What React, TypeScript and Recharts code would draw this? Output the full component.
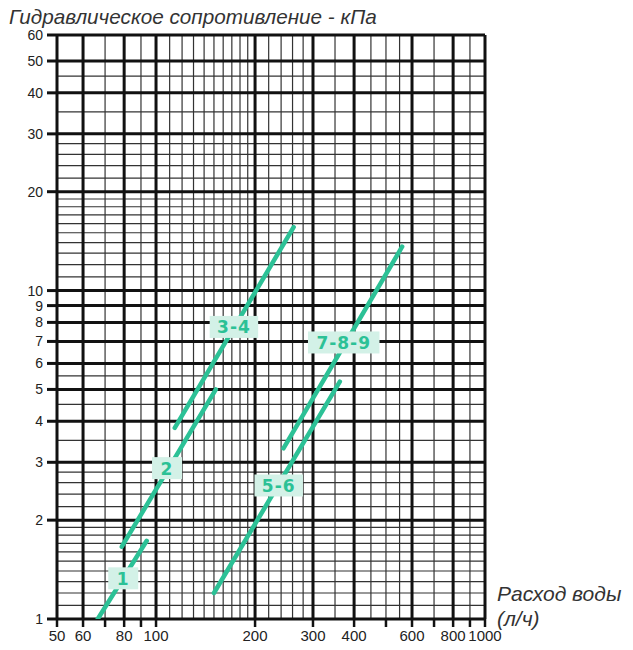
import { ComposedChart, Line, Scatter, XAxis, YAxis, ReferenceLine } from 'recharts'

// flow, l/h (log axis)
const flowTicks = [50, 60, 70, 80, 90, 100, 200, 300, 400, 500, 600, 700, 800, 900, 1000]
const flowLabels = [50, 60, 80, 100, 200, 300, 400, 600, 800, 1000]
// pressure drop, kPa (log axis)
const pressureTicks = [1, 2, 3, 4, 5, 6, 7, 8, 9, 10, 20, 30, 40, 50, 60]

const gridXMajor = [50, 60, 80, 100, 200, 300, 400, 600, 800, 1000]
const gridXMinor = [70, 90, 110, 120, 130, 140, 150, 160, 170, 180, 190, 220, 240, 260, 280, 350, 450, 500, 550, 700, 900]
const gridYMajor = [1, 2, 3, 4, 5, 6, 7, 8, 9, 10, 20, 30, 40, 50, 60]
const gridYMinor = [
    1.1, 1.2, 1.3, 1.4, 1.5, 1.6, 1.7, 1.8, 1.9, 2.2, 2.4, 2.6, 2.8, 3.5, 4.5, 5.5,
    11, 12, 13, 14, 15, 16, 17, 18, 19, 22, 24, 26, 28, 35, 45,
]

const curve1 = [{ x: 66.5, y: 1 }, { x: 93.7, y: 1.73 }]
const curve2 = [{ x: 78.7, y: 1.66 }, { x: 152, y: 5.0 }]
const curve34 = [{ x: 114, y: 3.82 }, { x: 262, y: 15.6 }]
const curve56 = [{ x: 150, y: 1.2 }, { x: 362, y: 5.28 }]
const curve789 = [{ x: 244, y: 3.31 }, { x: 560, y: 13.6 }]

const curveTags = [
    { x: 79.5, y: 1.33, name: '1' },
    { x: 108, y: 2.88, name: '2' },
    { x: 172.5, y: 7.75, name: '3-4' },
    { x: 236, y: 2.55, name: '5-6' },
    { x: 372, y: 6.95, name: '7-8-9' },
]

const GREEN = '#2cc196'
const FONT = '"Liberation Sans", Arial, sans-serif'

const TagBox = (props: any) => {
    const { cx, cy, payload } = props
    const w = Math.max(30, 14 + payload.name.length * 11.5)
    return (
        <g>
            <rect x={cx - w / 2} y={cy - 11} width={w} height={22} fill="#d3f1e7" />
            <text
                x={cx}
                y={cy + 6.5}
                textAnchor="middle"
                fill={GREEN}
                fontFamily='"DejaVu Sans", sans-serif'
                fontWeight="bold"
                fontSize={17}
                letterSpacing={1}
            >
                {payload.name}
            </text>
        </g>
    )
}

export default function App() {
    return (
        <div style={{ position: 'absolute', left: 0, top: 0, width: 633, height: 650, background: '#fff' }}>
            <div
                style={{
                    position: 'absolute', left: 9, top: 5, fontFamily: FONT, fontStyle: 'italic',
                    fontSize: 20.7, color: '#333', whiteSpace: 'nowrap',
                }}
            >
                Гидравлическое сопротивление - кПа
            </div>
            <div
                style={{
                    position: 'absolute', left: 497, top: 581, fontFamily: FONT, fontStyle: 'italic',
                    fontSize: 21, color: '#333', lineHeight: '25px', whiteSpace: 'nowrap',
                }}
            >
                Расход воды
                <br />
                (л/ч)
            </div>
            <ComposedChart
                width={633}
                height={650}
                margin={{ top: 35, right: 148, bottom: 6, left: 0 }}
                style={{ fontFamily: FONT }}
            >
                {gridXMinor.map((v) => (
                    <ReferenceLine key={'xm' + v} x={v} stroke="#333" strokeWidth={1.2} />
                ))}
                {gridYMinor.map((v) => (
                    <ReferenceLine key={'ym' + v} y={v} stroke="#333" strokeWidth={1.2} />
                ))}
                {gridXMajor.map((v) => (
                    <ReferenceLine key={'xM' + v} x={v} stroke="#111" strokeWidth={3} />
                ))}
                {gridYMajor.map((v) => (
                    <ReferenceLine key={'yM' + v} y={v} stroke="#111" strokeWidth={3} />
                ))}
                <XAxis
                    type="number"
                    dataKey="x"
                    scale="log"
                    domain={[50, 1000]}
                    allowDataOverflow
                    ticks={flowTicks}
                    interval={0}
                    height={25}
                    tickSize={8}
                    tickMargin={3}
                    axisLine={false}
                    tickLine={{ stroke: '#111', strokeWidth: 2.5 }}
                    tick={{ fill: '#222', fontSize: 15 }}
                    tickFormatter={(v: number) => (flowLabels.includes(v) ? String(v) : '')}
                />
                <YAxis
                    type="number"
                    dataKey="y"
                    scale="log"
                    domain={[1, 60]}
                    allowDataOverflow
                    ticks={pressureTicks}
                    interval={0}
                    width={57}
                    tickSize={10}
                    tickMargin={4}
                    axisLine={false}
                    tickLine={{ stroke: '#111', strokeWidth: 3 }}
                    tick={{ fill: '#222', fontSize: 14 }}
                />
                {[curve1, curve2, curve34, curve56, curve789].map((d, i) => (
                    <Line
                        key={i}
                        data={d}
                        dataKey="y"
                        type="linear"
                        stroke={GREEN}
                        strokeWidth={4.5}
                        strokeLinecap="round"
                        dot={false}
                        activeDot={false}
                        isAnimationActive={false}
                    />
                ))}
                <Scatter data={curveTags} dataKey="y" shape={TagBox} isAnimationActive={false} />
            </ComposedChart>
        </div>
    )
}
